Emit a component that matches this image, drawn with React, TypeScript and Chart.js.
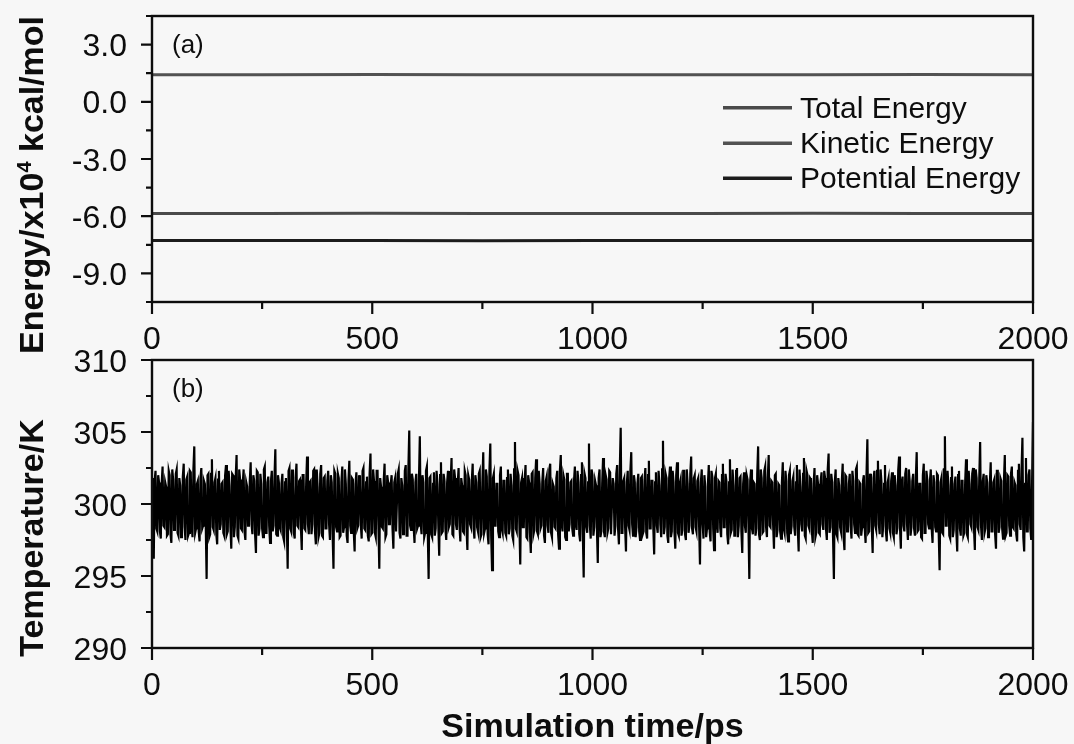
import React, { useEffect, useRef } from "react";
import { Chart, registerables } from "chart.js";

Chart.register(...registerables);

// ---------- data ----------
const energyTimes = [0, 250, 500, 750, 1000, 1250, 1500, 1750, 2000];
const totalEnergy = [-5.86, -5.86, -5.85, -5.86, -5.86, -5.86, -5.85, -5.86, -5.86];
const kineticEnergy = [1.42, 1.42, 1.43, 1.42, 1.42, 1.42, 1.42, 1.43, 1.42];
const potentialEnergy = [-7.28, -7.28, -7.28, -7.29, -7.28, -7.28, -7.28, -7.28, -7.28];

const energySeriesNames = ["Total Energy", "Kinetic Energy", "Potential Energy"];
const energySeriesColors = ["#4a4a4a", "#525252", "#1c1c1c"];

const energyTicks = [3.0, 0.0, -3.0, -6.0, -9.0];
const energyMinorTicks = [4.5, 1.5, -1.5, -4.5, -7.5, -10.5];
const tempTicks = [310, 305, 300, 295, 290];
const tempMinorTicks = [307.5, 302.5, 297.5, 292.5];
const timeTicks = [0, 500, 1000, 1500, 2000];
const timeMinorTicks = [250, 750, 1250, 1750];

const temperatureStepPs = 2;
const temperatureK = [
  301.8, 298.6, 296.2, 301.6, 302.3, 298.3, 298.1, 302.0, 301.5, 298.1, 297.6, 301.4, 302.6, 298.5, 298.4, 301.5, 301.2, 297.8, 297.9, 302.3,
  302.0, 297.9, 297.3, 302.4, 301.7, 298.2, 298.6, 302.1, 302.4, 298.0, 297.8, 301.8, 301.3, 297.7, 298.2, 301.9, 302.8, 298.4, 297.5, 301.7,
  301.9, 297.8, 298.0, 302.3, 302.2, 298.5, 297.7, 302.4, 304.0, 298.0, 298.3, 301.4, 301.6, 298.1, 297.4, 301.8, 302.5, 298.3, 298.5, 301.6,
  301.4, 298.6, 294.8, 302.0, 302.1, 297.7, 297.9, 302.1, 303.1, 298.4, 298.2, 301.5, 301.8, 297.9, 297.2, 301.7, 302.3, 298.2, 298.6, 301.4,
  301.5, 298.0, 297.8, 302.0, 302.7, 297.9, 298.1, 302.3, 301.3, 298.4, 296.9, 302.1, 302.0, 297.7, 298.4, 301.8, 303.4, 297.8, 297.6, 302.4,
  301.7, 298.3, 298.2, 301.4, 302.4, 298.1, 297.5, 301.5, 301.2, 298.5, 298.7, 301.6, 302.9, 298.6, 297.9, 302.0, 301.6, 297.9, 296.6, 302.3,
  302.2, 297.8, 298.3, 302.1, 301.4, 298.3, 297.7, 302.4, 302.6, 298.0, 298.0, 301.5, 301.9, 298.5, 297.3, 301.6, 302.3, 298.1, 298.5, 301.8,
  303.8, 297.9, 297.8, 302.0, 301.5, 298.4, 298.2, 301.4, 302.1, 297.7, 297.4, 301.5, 301.8, 298.6, 295.5, 302.3, 302.5, 298.3, 298.1, 302.4,
  301.3, 298.0, 297.6, 301.8, 302.8, 298.5, 298.4, 301.6, 301.7, 298.4, 296.8, 302.0, 302.0, 298.3, 298.2, 301.4, 303.3, 298.6, 297.9, 301.5,
  301.6, 297.9, 298.6, 302.3, 302.4, 298.1, 297.2, 302.4, 301.2, 297.7, 298.0, 302.1, 302.7, 297.8, 297.7, 301.8, 301.9, 298.3, 298.3, 301.6,
  302.3, 298.6, 297.5, 302.0, 301.5, 297.9, 295.5, 302.3, 302.1, 298.4, 298.1, 302.1, 301.8, 297.7, 297.8, 301.5, 302.6, 298.0, 298.4, 302.4,
  301.4, 297.8, 297.3, 301.6, 303.0, 298.5, 298.0, 301.8, 301.7, 298.1, 296.7, 301.4, 302.2, 298.3, 298.5, 302.0, 301.3, 298.6, 297.6, 302.3,
  302.5, 298.3, 298.2, 301.5, 301.9, 297.8, 297.4, 302.1, 303.5, 297.9, 298.0, 302.4, 301.6, 298.0, 297.7, 302.3, 302.3, 298.5, 295.5, 301.8,
  301.2, 298.4, 298.3, 301.6, 302.8, 297.7, 297.9, 302.0, 301.5, 298.6, 298.6, 301.4, 302.0, 298.3, 296.9, 301.5, 301.8, 298.1, 298.1, 302.1,
  302.4, 298.0, 297.6, 301.8, 301.3, 297.9, 298.4, 302.3, 302.7, 297.8, 297.8, 302.4, 305.1, 298.5, 298.2, 302.1, 301.7, 298.4, 297.3, 301.5,
  302.1, 298.3, 298.5, 301.6, 304.7, 298.6, 297.9, 302.0, 301.5, 297.7, 298.0, 302.3, 302.6, 298.1, 294.8, 301.8, 301.9, 297.9, 297.7, 301.4,
  302.2, 297.8, 298.3, 302.3, 301.4, 298.5, 296.4, 302.0, 302.9, 298.0, 298.1, 302.1, 301.6, 298.3, 297.5, 301.5, 302.3, 298.4, 298.6, 301.6,
  303.2, 297.9, 297.8, 302.4, 301.8, 298.6, 298.2, 301.4, 302.5, 298.5, 297.4, 301.8, 301.3, 298.1, 298.0, 302.3, 302.0, 298.3, 296.8, 302.0,
  301.7, 298.6, 298.4, 301.6, 302.8, 298.3, 297.6, 302.0, 301.5, 298.4, 298.1, 302.1, 302.3, 297.7, 297.9, 301.5, 303.6, 298.0, 298.3, 302.4,
  301.9, 297.9, 297.2, 302.3, 304.2, 297.8, 295.4, 301.8, 302.1, 298.5, 298.5, 301.4, 301.4, 298.1, 297.7, 302.0, 302.6, 298.3, 298.0, 301.6,
  301.6, 298.0, 297.8, 301.8, 302.4, 297.9, 298.3, 302.1, 301.3, 297.8, 297.5, 302.4, 304.3, 298.3, 298.1, 302.3, 302.0, 298.6, 295.8, 301.5,
  301.8, 298.4, 298.4, 301.6, 302.7, 297.7, 297.6, 302.0, 301.5, 298.0, 296.6, 302.1, 302.2, 297.9, 298.2, 301.8, 303.1, 298.1, 297.9, 302.3,
  301.4, 298.3, 298.5, 301.5, 302.5, 297.8, 297.3, 301.6, 301.9, 298.5, 298.0, 302.4, 302.8, 298.0, 297.7, 301.4, 301.2, 298.4, 298.3, 301.8,
  302.3, 297.9, 296.9, 302.3, 303.4, 298.6, 298.1, 302.0, 301.7, 297.7, 297.5, 302.1, 302.1, 298.1, 298.6, 301.5, 301.6, 298.3, 297.8, 301.6,
  302.6, 298.6, 298.2, 302.3, 301.5, 297.9, 297.4, 302.0, 302.9, 298.0, 294.9, 302.1, 301.8, 298.4, 298.0, 301.5, 304.2, 298.5, 297.6, 302.4,
  302.0, 297.8, 298.4, 301.6, 301.3, 298.3, 295.9, 301.8, 302.4, 297.7, 298.1, 301.4, 303.2, 298.1, 297.7, 302.0, 301.7, 298.0, 298.3, 302.3,
  302.2, 297.9, 297.9, 301.8, 301.4, 297.8, 298.5, 302.1, 302.7, 298.3, 297.2, 302.4, 305.3, 298.0, 298.0, 301.6, 301.8, 298.4, 296.7, 301.5,
  302.3, 298.5, 298.2, 302.3, 303.6, 298.6, 297.8, 302.0, 301.5, 297.7, 298.4, 301.4, 302.1, 298.1, 297.5, 301.8, 301.9, 297.9, 298.1, 301.6,
  302.5, 298.0, 297.6, 302.0, 303.0, 298.3, 298.3, 301.6, 301.6, 298.4, 296.5, 301.5, 302.2, 298.5, 298.0, 302.3, 301.3, 298.6, 297.7, 302.4,
  304.4, 297.9, 298.4, 302.1, 301.8, 297.8, 297.3, 301.8, 302.6, 297.7, 298.1, 302.3, 301.5, 298.1, 296.9, 302.0, 302.9, 298.0, 297.8, 301.4,
  301.7, 297.8, 298.2, 302.3, 302.3, 297.9, 297.5, 302.4, 301.4, 298.0, 298.5, 302.1, 303.3, 298.3, 297.9, 301.8, 302.0, 298.4, 298.1, 301.6,
  301.8, 298.5, 295.8, 301.5, 302.4, 298.6, 297.6, 302.0, 301.2, 297.7, 298.3, 301.4, 302.7, 298.1, 297.4, 302.3, 301.9, 298.3, 296.8, 301.8,
  302.1, 298.6, 298.0, 301.6, 301.5, 298.3, 297.7, 302.0, 302.8, 298.4, 298.4, 302.1, 301.6, 297.9, 297.2, 301.5, 303.1, 298.0, 298.2, 302.4,
  301.3, 297.8, 297.8, 302.3, 302.5, 297.7, 298.5, 301.8, 301.9, 298.1, 296.6, 301.4, 302.2, 298.5, 298.0, 302.0, 301.7, 298.6, 294.8, 301.6,
  302.4, 298.3, 297.9, 301.5, 301.4, 297.8, 298.3, 302.1, 304.0, 297.9, 297.5, 302.4, 301.8, 298.0, 298.1, 302.3, 302.6, 298.4, 297.7, 301.8,
  303.4, 298.5, 298.4, 301.6, 301.5, 298.6, 296.9, 302.0, 302.1, 297.7, 298.2, 301.4, 301.3, 298.1, 297.6, 301.5, 302.9, 298.3, 298.0, 302.3,
  301.6, 298.0, 297.4, 302.0, 302.3, 297.9, 298.5, 301.6, 301.9, 298.4, 297.8, 301.5, 302.7, 298.3, 296.7, 302.4, 301.2, 298.6, 298.1, 302.1,
  303.2, 297.8, 297.6, 302.3, 302.0, 298.5, 298.3, 301.8, 301.7, 298.1, 297.3, 301.4, 302.5, 297.7, 298.0, 302.0, 301.4, 298.0, 297.9, 301.6,
  302.2, 298.6, 298.2, 302.3, 301.8, 298.3, 297.5, 302.4, 303.5, 298.0, 298.4, 302.1, 301.5, 297.8, 294.8, 301.5, 302.4, 297.9, 297.7, 301.8,
  301.3, 298.4, 298.1, 301.6, 302.8, 297.7, 296.8, 302.0, 301.9, 298.1, 298.3, 301.4, 302.1, 298.5, 297.6, 302.3, 301.6, 298.6, 298.0, 302.4,
  302.6, 297.9, 297.8, 301.5, 301.4, 297.8, 298.4, 301.6, 302.0, 298.3, 297.3, 302.0, 304.5, 298.0, 298.1, 302.1, 301.7, 298.4, 296.6, 301.8,
  302.3, 298.5, 298.2, 302.3, 303.0, 298.6, 297.9, 302.4, 301.5, 297.7, 298.5, 301.4, 302.7, 298.1, 297.4, 301.5, 301.8, 298.3, 298.0, 301.6,
  302.2, 298.0, 297.7, 302.0, 301.3, 297.9, 298.3, 302.3, 303.3, 298.4, 296.9, 301.5, 301.9, 298.5, 298.1, 302.1, 302.5, 298.6, 297.5, 302.4,
  301.6, 297.8, 298.4, 301.6, 302.1, 298.3, 297.8, 301.8, 303.6, 298.1, 298.2, 301.4, 301.4, 297.7, 297.6, 302.0, 302.8, 298.0, 298.0, 302.3,
  301.7, 298.6, 298.3, 301.6, 302.4, 298.3, 297.3, 302.0, 301.5, 298.4, 298.1, 302.1, 302.0, 297.9, 295.4, 301.5, 301.8, 298.0, 297.9, 302.4,
  304.7, 298.5, 298.5, 302.3, 301.3, 297.8, 297.6, 301.8, 302.6, 297.7, 298.2, 301.4, 301.9, 298.1, 296.7, 302.0, 302.3, 298.3, 297.8, 301.6,
  301.6, 297.8, 298.0, 301.5, 303.1, 297.9, 297.7, 302.3, 301.4, 298.6, 298.4, 302.1, 302.5, 298.3, 296.8, 302.4, 301.8, 298.4, 298.2, 301.8,
  304.3, 298.5, 297.5, 301.6, 302.1, 298.0, 298.3, 302.0, 301.5, 297.7, 297.9, 301.4, 302.9, 298.1, 298.1, 301.5, 301.7, 297.9, 296.9, 302.3,
  302.3, 298.0, 298.4, 301.8, 301.6, 298.3, 297.6, 301.6, 303.4, 297.8, 298.0, 302.0, 301.9, 298.5, 297.8, 302.1, 302.6, 298.4, 298.3, 301.5,
  301.3, 297.9, 297.4, 302.3, 302.8, 298.6, 298.2, 302.4, 304.6, 297.7, 296.7, 301.4, 303.2, 298.1, 298.1, 302.0, 302.4, 298.3, 297.5, 301.6,
  305.7,
];

// ---------- layout ----------
const W = 1074;
const H = 744;
const PLOT_LEFT = 152;
const PLOT_RIGHT = 1033;
const TOP_PANEL = { top: 16, bottom: 302 };
const BOT_PANEL = { top: 360, bottom: 648 };

const INK = "#0d0d0d";
const FONT = '"Liberation Sans", Arial, Helvetica, sans-serif';

function drawPanelDecor(
  chart: any,
  yMajor: number[],
  yMinor: number[],
  fmtY: (v: number) => string,
  panelLabel: string
) {
  const ctx = chart.ctx as CanvasRenderingContext2D;
  const { left, right, top, bottom } = chart.chartArea;
  const xs = chart.scales.x;
  const ys = chart.scales.y;
  ctx.save();
  ctx.strokeStyle = INK;
  ctx.lineWidth = 2.4;
  ctx.lineCap = "butt";
  ctx.strokeRect(left, top, right - left, bottom - top);

  ctx.lineWidth = 2.2;
  ctx.beginPath();
  for (const v of yMajor) {
    const py = ys.getPixelForValue(v);
    ctx.moveTo(left - 11, py);
    ctx.lineTo(left, py);
  }
  for (const v of yMinor) {
    const py = ys.getPixelForValue(v);
    ctx.moveTo(left - 6, py);
    ctx.lineTo(left, py);
  }
  for (const v of timeTicks) {
    const px = xs.getPixelForValue(v);
    ctx.moveTo(px, bottom);
    ctx.lineTo(px, bottom + 12);
  }
  for (const v of timeMinorTicks) {
    const px = xs.getPixelForValue(v);
    ctx.moveTo(px, bottom);
    ctx.lineTo(px, bottom + 7);
  }
  ctx.stroke();

  ctx.fillStyle = INK;
  ctx.font = `32px ${FONT}`;
  ctx.textAlign = "right";
  ctx.textBaseline = "alphabetic";
  for (const v of yMajor) {
    const py = ys.getPixelForValue(v);
    ctx.fillText(fmtY(v), left - 25, py + 11.5);
  }
  ctx.textAlign = "center";
  for (const v of timeTicks) {
    const px = xs.getPixelForValue(v);
    ctx.fillText(String(v), px, bottom + 47);
  }

  ctx.font = `26px ${FONT}`;
  ctx.textAlign = "left";
  ctx.fillText(panelLabel, left + 20, top + 37);
  ctx.restore();
}

function drawRotatedTitle(ctx: CanvasRenderingContext2D, parts: { text: string; sup?: boolean }[], cx: number, cy: number) {
  ctx.save();
  ctx.translate(cx, cy);
  ctx.rotate(-Math.PI / 2);
  ctx.fillStyle = INK;
  ctx.textBaseline = "alphabetic";
  ctx.textAlign = "left";
  const normal = `bold 34px ${FONT}`;
  const small = `bold 20px ${FONT}`;
  let total = 0;
  const widths = parts.map((p) => {
    ctx.font = p.sup ? small : normal;
    const w = ctx.measureText(p.text).width;
    total += w;
    return w;
  });
  let x = -total / 2;
  parts.forEach((p, i) => {
    ctx.font = p.sup ? small : normal;
    ctx.fillText(p.text, x, p.sup ? -12 : 0);
    x += widths[i];
  });
  ctx.restore();
}

const topDecor = {
  id: "topDecor",
  afterDraw(chart: any) {
    drawPanelDecor(chart, energyTicks, energyMinorTicks, (v) => v.toFixed(1), "(a)");
    const ctx = chart.ctx as CanvasRenderingContext2D;
    const legendY = [107.7, 143.3, 178.3];
    ctx.save();
    energySeriesNames.forEach((name, i) => {
      ctx.strokeStyle = energySeriesColors[i];
      ctx.lineWidth = 3.5;
      ctx.beginPath();
      ctx.moveTo(723, legendY[i]);
      ctx.lineTo(792, legendY[i]);
      ctx.stroke();
      ctx.fillStyle = INK;
      ctx.font = `30px ${FONT}`;
      ctx.textAlign = "left";
      ctx.textBaseline = "alphabetic";
      ctx.fillText(name, 800, legendY[i] + 10);
    });
    ctx.restore();
    drawRotatedTitle(ctx, [{ text: "Energy/x10" }, { text: "4", sup: true }, { text: " kcal/mol" }], 43, 185);
  },
};

const bottomDecor = {
  id: "bottomDecor",
  afterDraw(chart: any) {
    drawPanelDecor(chart, tempTicks, tempMinorTicks, (v) => String(v), "(b)");
    const ctx = chart.ctx as CanvasRenderingContext2D;
    drawRotatedTitle(ctx, [{ text: "Temperature/K" }], 43, 538);
    ctx.save();
    ctx.fillStyle = INK;
    ctx.font = `bold 34px ${FONT}`;
    ctx.textAlign = "center";
    ctx.textBaseline = "alphabetic";
    const { left, right } = chart.chartArea;
    ctx.fillText("Simulation time/ps", (left + right) / 2, 737);
    ctx.restore();
  },
};

function baseOptions(panel: { top: number; bottom: number }, yMin: number, yMax: number) {
  return {
    animation: false,
    responsive: false,
    maintainAspectRatio: false,
    devicePixelRatio: 1,
    layout: {
      padding: { left: PLOT_LEFT, right: W - PLOT_RIGHT, top: panel.top, bottom: H - panel.bottom },
    },
    plugins: { legend: { display: false }, tooltip: { enabled: false } },
    events: [],
    elements: { point: { radius: 0 }, line: { tension: 0 } },
    scales: {
      x: { type: "linear", min: 0, max: 2000, display: false },
      y: { type: "linear", min: yMin, max: yMax, display: false },
    },
  } as any;
}

export default function App() {
  const topRef = useRef<HTMLCanvasElement | null>(null);
  const botRef = useRef<HTMLCanvasElement | null>(null);

  useEffect(() => {
    if (!topRef.current || !botRef.current) return;
    const energySeries = [totalEnergy, kineticEnergy, potentialEnergy];
    const topChart = new Chart(topRef.current, {
      type: "line",
      data: {
        datasets: energySeries.map((vals, i) => ({
          label: energySeriesNames[i],
          data: vals.map((y, k) => ({ x: energyTimes[k], y })),
          borderColor: energySeriesColors[i],
          borderWidth: 3,
          pointRadius: 0,
          fill: false,
        })),
      },
      options: baseOptions(TOP_PANEL, -10.5, 4.5),
      plugins: [topDecor],
    });
    const botChart = new Chart(botRef.current, {
      type: "line",
      data: {
        datasets: [
          {
            label: "Temperature",
            data: temperatureK.map((y, i) => ({ x: i * temperatureStepPs, y })),
            borderColor: "#000000",
            borderWidth: 2.2,
            borderJoinStyle: "miter",
            pointRadius: 0,
            fill: false,
          },
        ],
      },
      options: baseOptions(BOT_PANEL, 290, 310),
      plugins: [bottomDecor],
    });
    return () => {
      topChart.destroy();
      botChart.destroy();
    };
  }, []);

  const canvasStyle: React.CSSProperties = { position: "absolute", left: 0, top: 0, width: W, height: H };
  return (
    <div style={{ position: "fixed", left: 0, top: 0, width: W, height: H, background: "#f7f7f7", overflow: "hidden" }}>
      <canvas ref={topRef} width={W} height={H} style={canvasStyle} />
      <canvas ref={botRef} width={W} height={H} style={canvasStyle} />
    </div>
  );
}
